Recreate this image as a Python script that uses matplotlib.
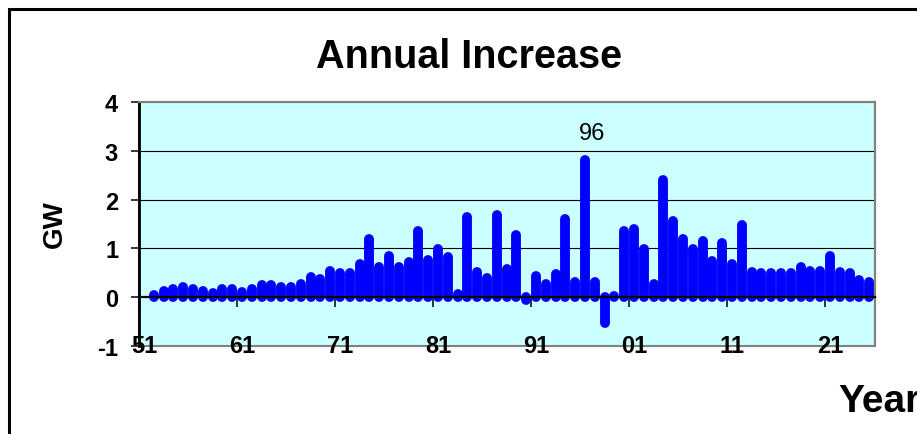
import numpy as np
import matplotlib
matplotlib.use("Agg")
import matplotlib.pyplot as plt
from matplotlib.patches import Rectangle

plt.rcParams['font.family'] = ['Liberation Sans', 'DejaVu Sans']
plt.rcParams['axes.unicode_minus'] = False

# yearly capacity additions (GW), 1952-2025
years = np.arange(1952, 2026)
increase_gw = [
    0.05, 0.13, 0.16, 0.21, 0.16, 0.13, 0.08, 0.16, 0.16, 0.11,
    0.16, 0.24, 0.24, 0.21, 0.21, 0.28, 0.42, 0.37, 0.53, 0.49,
    0.49, 0.69, 1.19, 0.62, 0.85, 0.61, 0.73, 1.35, 0.77, 0.99,
    0.82, 0.07, 1.65, 0.52, 0.40, 1.69, 0.58, 1.27, -0.05, 0.44,
    0.28, 0.47, 1.60, 0.31, 2.81, 0.31, -0.53, 0.02, 1.36, 1.40,
    0.99, 0.28, 2.40, 1.57, 1.19, 0.99, 1.15, 0.74, 1.11, 0.69,
    1.48, 0.52, 0.49, 0.49, 0.49, 0.49, 0.61, 0.53, 0.53, 0.85,
    0.52, 0.49, 0.35, 0.31,
]
label_years = [1951, 1961, 1971, 1981, 1991, 2001, 2011, 2021]
peak_year = 1996

W, H = 917, 435
fig = plt.figure(figsize=(W / 100, H / 100), dpi=100)
ax = fig.add_axes([139 / W, 1 - 347 / H, (875 - 139) / W, (347 - 103) / H])
ax.set_facecolor('#ccffff')

ax.set_xlim(1950.5, 2025.6)
ax.set_ylim(-1, 4)

# gridlines
for g in (1, 2, 3):
    ax.axhline(g, color='black', lw=0.8, zorder=1)

# bars drawn as thick round-capped strokes
ax.vlines(years, 0, increase_gw, colors='#0000ff', lw=7.1,
          capstyle='round', zorder=3)

# frame: gray plot-area border, black value axis and zero category axis
for side in ('top', 'right'):
    ax.spines[side].set_color('#808080')
    ax.spines[side].set_linewidth(1.5)
ax.add_patch(Rectangle((0, 0), 1, 1, transform=ax.transAxes, fill=False,
                       edgecolor='#808080', lw=1.5, clip_on=False, zorder=0.5))
ax.spines['left'].set_color('black')
ax.spines['left'].set_linewidth(2)
ax.spines['bottom'].set_position(('data', 0))
ax.spines['bottom'].set_color('black')
ax.spines['bottom'].set_linewidth(1.6)
ax.spines['bottom'].set_zorder(4)

ax.set_yticks(range(-1, 5))
ax.tick_params(axis='y', direction='out', length=6, width=1.1, pad=9,
               labelsize=17)
for t in ax.get_yticklabels():
    t.set_fontweight('bold')

ax.set_xticks(np.arange(1950.5, 2025, 10))
ax.set_xticklabels([])
ax.tick_params(axis='x', direction='out', length=7, width=1.1)

for y in label_years:
    ax.text(y, -0.98, str(y)[-2:], ha='center', va='center', fontsize=17,
            fontweight='bold', clip_on=False, zorder=6)

peak_val = increase_gw[list(years).index(peak_year)]
ax.annotate(str(peak_year)[-2:], xy=(peak_year, peak_val),
            xytext=(7, 21), textcoords='offset pixels',
            ha='center', va='baseline', fontsize=17)

fig.text(469 / W, 1 - 68 / H, 'Annual Increase', ha='center', va='baseline',
         fontsize=28.5, fontweight='bold')
fig.text(55 / W, 1 - 224 / H, 'GW', rotation=90, ha='center', va='center',
         fontsize=20, fontweight='bold')
fig.text(838 / W, 1 - 412 / H, 'Year', ha='left', va='baseline',
         fontsize=28, fontweight='bold')

# outer chart border
fig.patches.append(Rectangle((9 / W, -0.2), 2, 1.2 - 10 / H,
                             transform=fig.transFigure, fill=False,
                             edgecolor='black', lw=2.2))

fig.savefig('out.png', dpi=100)
